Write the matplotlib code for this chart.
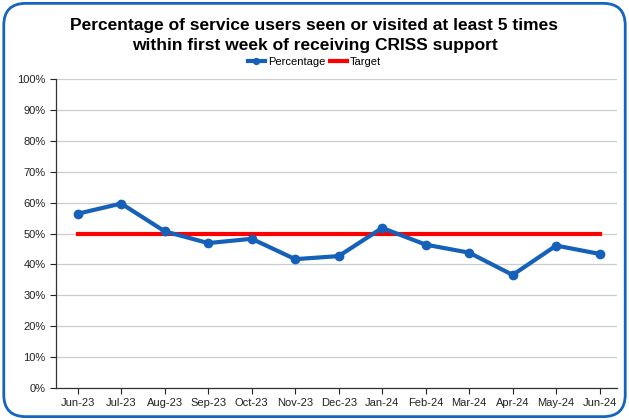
import matplotlib
matplotlib.use('Agg')
from matplotlib import pyplot as plt
from matplotlib.patches import FancyBboxPatch
from matplotlib.ticker import PercentFormatter

months = ['Jun-23', 'Jul-23', 'Aug-23', 'Sep-23', 'Oct-23', 'Nov-23', 'Dec-23',
          'Jan-24', 'Feb-24', 'Mar-24', 'Apr-24', 'May-24', 'Jun-24']
percentage = [56.4, 59.7, 50.7, 46.9, 48.3, 41.7, 42.7, 51.8, 46.4, 43.8, 36.6, 46.1, 43.4]
target = [50] * 13

plt.rcParams['font.family'] = ['Liberation Sans', 'DejaVu Sans']

fig = plt.figure(figsize=(6.29, 4.20), dpi=100)
ax = fig.add_axes([0.089, 0.076, 0.892, 0.736])

# rounded border around the whole chart
border = FancyBboxPatch((0.006, 0.008), 0.988, 0.984, boxstyle='round,pad=0,rounding_size=0.035',
                        transform=fig.transFigure, facecolor='none', edgecolor='#1565C0',
                        linewidth=2, mutation_aspect=629 / 420)
fig.patches.append(border)

x = range(len(months))
ax.plot(x, percentage, color='#1560B8', linewidth=3, marker='o', markersize=6, label='Percentage', zorder=3)
ax.plot(x, target, color='#FF0000', linewidth=3, label='Target', zorder=2)

ax.set_xlim(-0.5, 12.4)
ax.set_ylim(0, 100)
ax.set_yticks(range(0, 101, 10))
ax.yaxis.set_major_formatter(PercentFormatter(decimals=0))
ax.set_xticks(list(x))
ax.set_xticklabels(months)
ax.tick_params(labelsize=8, colors='#222222', length=4, width=0.8)
ax.grid(axis='y', color='#cccccc', linewidth=0.9)
ax.set_axisbelow(True)
for s in ['top', 'right']:
    ax.spines[s].set_visible(False)
for s in ['left', 'bottom']:
    ax.spines[s].set_color('#333333')
    ax.spines[s].set_linewidth(0.9)

fig.text(0.5, 0.915, 'Percentage of service users seen or visited at least 5 times\nwithin first week of receiving CRISS support',
         ha='center', va='center', fontsize=12.5, fontweight='bold', linespacing=1.45)
fig.legend(loc='center', bbox_to_anchor=(0.5, 0.852), ncol=2, frameon=False, fontsize=8,
           handlelength=1.5, handletextpad=0.3, columnspacing=0.4, markerscale=0.7)

fig.savefig('out.png', dpi=100)
